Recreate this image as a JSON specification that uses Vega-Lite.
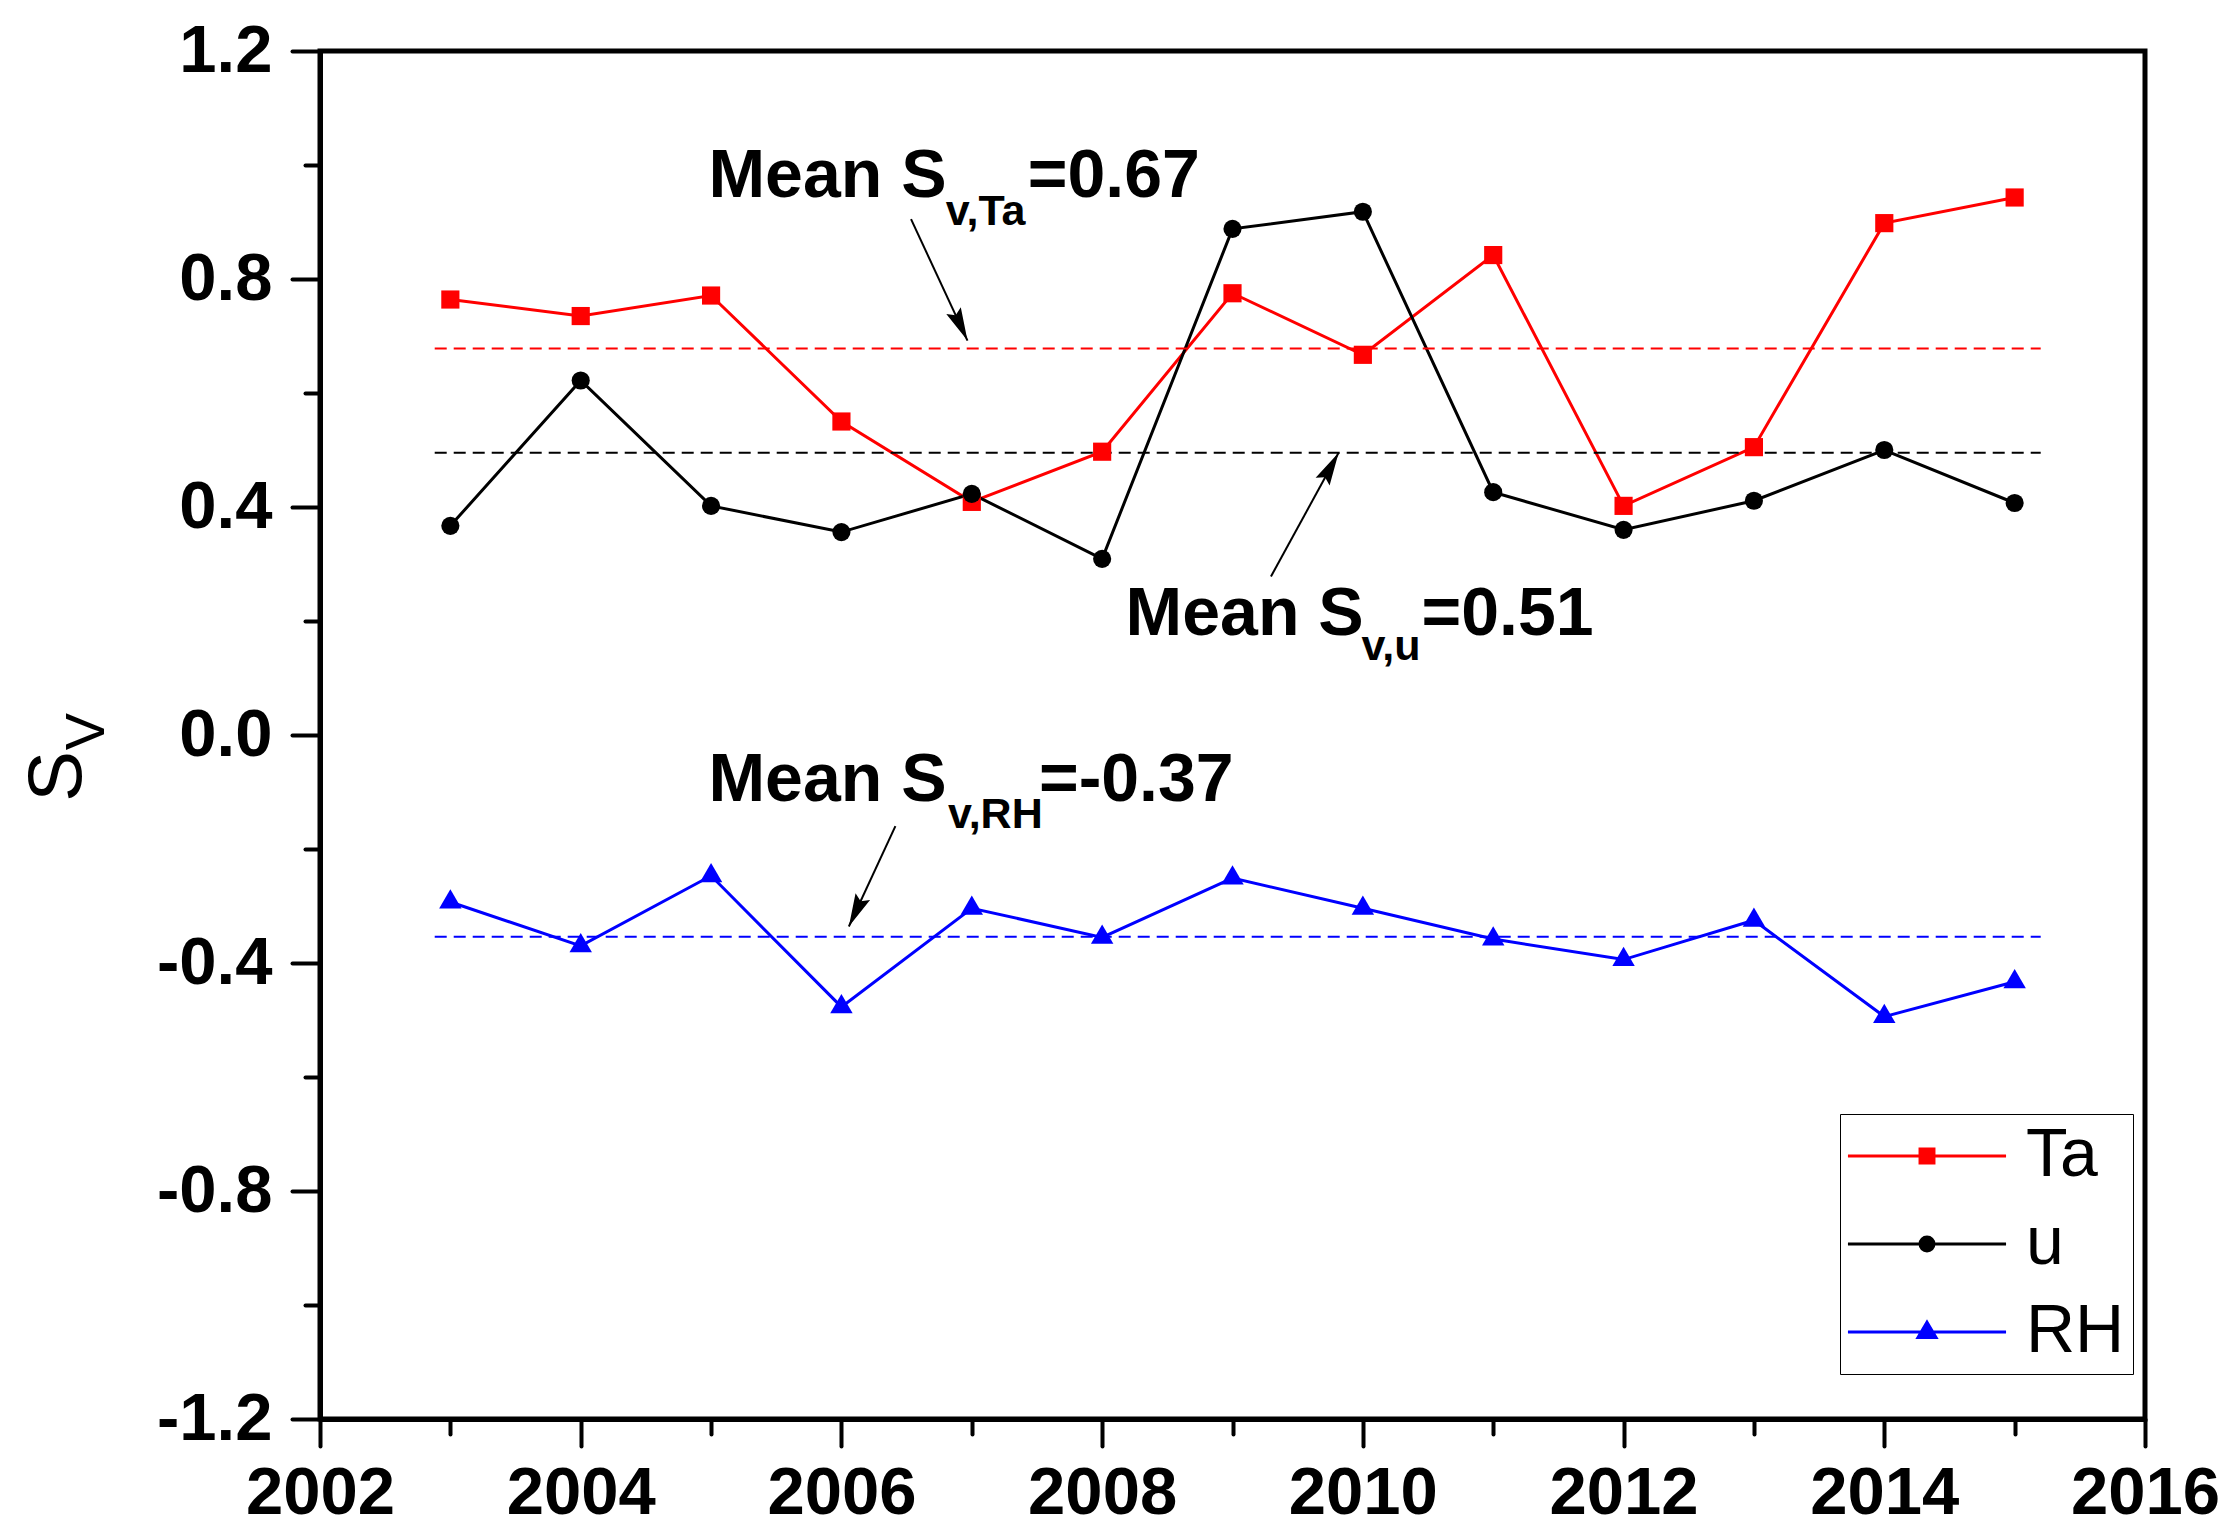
{
  "$schema": "https://vega.github.io/schema/vega-lite/v6.json",
  "width": 1825,
  "height": 1368,
  "autosize": {"type": "none"},
  "padding": {"left": 320, "top": 51, "right": 93, "bottom": 115},
  "background": "white",
  "config": {
    "view": {"stroke": "black", "strokeWidth": 5},
    "font": "Liberation Sans",
    "axis": {
      "grid": false,
      "domainColor": "black",
      "domainWidth": 5,
      "tickColor": "black",
      "tickWidth": 4,
      "tickCap": "round",
      "labelColor": "black",
      "labelFont": "Liberation Sans",
      "labelFontWeight": "bold",
      "labelFontSize": 67,
      "labelFlush": false,
      "labelOverlap": false,
      "titleColor": "black",
      "titleFont": "Liberation Sans",
      "titleFontWeight": "normal"
    }
  },
  "resolve": {"axis": {"x": "independent", "y": "independent"}, "scale": {"shape": "independent"}},
  "datasets": {
    "series": [
      {"year": 2003, "series": "Ta", "value": 0.764},
      {"year": 2004, "series": "Ta", "value": 0.735},
      {"year": 2005, "series": "Ta", "value": 0.771},
      {"year": 2006, "series": "Ta", "value": 0.55},
      {"year": 2007, "series": "Ta", "value": 0.409},
      {"year": 2008, "series": "Ta", "value": 0.497},
      {"year": 2009, "series": "Ta", "value": 0.775},
      {"year": 2010, "series": "Ta", "value": 0.667},
      {"year": 2011, "series": "Ta", "value": 0.842},
      {"year": 2012, "series": "Ta", "value": 0.402},
      {"year": 2013, "series": "Ta", "value": 0.505},
      {"year": 2014, "series": "Ta", "value": 0.898},
      {"year": 2015, "series": "Ta", "value": 0.943},
      {"year": 2003, "series": "u", "value": 0.367},
      {"year": 2004, "series": "u", "value": 0.622},
      {"year": 2005, "series": "u", "value": 0.402},
      {"year": 2006, "series": "u", "value": 0.356},
      {"year": 2007, "series": "u", "value": 0.423},
      {"year": 2008, "series": "u", "value": 0.309},
      {"year": 2009, "series": "u", "value": 0.888},
      {"year": 2010, "series": "u", "value": 0.918},
      {"year": 2011, "series": "u", "value": 0.426},
      {"year": 2012, "series": "u", "value": 0.36},
      {"year": 2013, "series": "u", "value": 0.411},
      {"year": 2014, "series": "u", "value": 0.5},
      {"year": 2015, "series": "u", "value": 0.407},
      {"year": 2003, "series": "RH", "value": -0.293},
      {"year": 2004, "series": "RH", "value": -0.37},
      {"year": 2005, "series": "RH", "value": -0.247},
      {"year": 2006, "series": "RH", "value": -0.477},
      {"year": 2007, "series": "RH", "value": -0.304},
      {"year": 2008, "series": "RH", "value": -0.355},
      {"year": 2009, "series": "RH", "value": -0.251},
      {"year": 2010, "series": "RH", "value": -0.304},
      {"year": 2011, "series": "RH", "value": -0.358},
      {"year": 2012, "series": "RH", "value": -0.394},
      {"year": 2013, "series": "RH", "value": -0.325},
      {"year": 2014, "series": "RH", "value": -0.494},
      {"year": 2015, "series": "RH", "value": -0.433}
    ],
    "means": [
      {"series": "Ta", "mean": 0.678, "start": 2002.88, "end": 2015.2},
      {"series": "u", "mean": 0.495, "start": 2002.88, "end": 2015.2},
      {"series": "RH", "mean": -0.354, "start": 2002.88, "end": 2015.2}
    ],
    "arrows": [
      {"name": "Ta", "x0": 2006.534, "y0": 0.905, "x1": 2006.967, "y1": 0.692},
      {"name": "u", "x0": 2009.295, "y0": 0.278, "x1": 2009.814, "y1": 0.495},
      {"name": "RH", "x0": 2006.414, "y0": -0.16, "x1": 2006.057, "y1": -0.336}
    ],
    "labels": [
      {"label": "Mean S", "x": 2004.98, "y": 0.943},
      {"label": "=0.67", "x": 2007.43, "y": 0.943},
      {"label": "Mean S", "x": 2008.18, "y": 0.175},
      {"label": "=0.51", "x": 2010.45, "y": 0.175},
      {"label": "Mean S", "x": 2004.98, "y": -0.115},
      {"label": "=-0.37", "x": 2007.515, "y": -0.115}
    ],
    "subs": [
      {"label": "v,Ta", "x": 2006.8, "y": 0.895},
      {"label": "v,u", "x": 2009.99, "y": 0.132},
      {"label": "v,RH", "x": 2006.817, "y": -0.164}
    ]
  },
  "layer": [
    {
      "data": {"name": "series"},
      "mark": {"type": "line", "strokeWidth": 3},
      "encoding": {
        "x": {
          "field": "year", "type": "quantitative",
          "scale": {"domain": [2002, 2016], "nice": false, "zero": false},
          "axis": {"orient": "bottom", "values": [2002, 2004, 2006, 2008, 2010, 2012, 2014, 2016], "format": "d", "tickSize": 27, "labelPadding": 14, "title": null}
        },
        "y": {
          "field": "value", "type": "quantitative",
          "scale": {"domain": [-1.2, 1.2], "nice": false, "zero": false},
          "axis": {"orient": "left", "values": [-1.2, -0.8, -0.4, 0, 0.4, 0.8, 1.2], "labelExpr": "replace(format(datum.value, '.1f'), '\u2212', '-')", "tickSize": 28, "labelPadding": 20,
                   "title": "S", "titleFontSize": 76, "titleX": -240, "titleY": 725, "titleAngle": 270, "titleBaseline": "alphabetic", "titleAlign": "center"}
        },
        "color": {
          "field": "series", "type": "nominal",
          "scale": {"domain": ["Ta", "u", "RH"], "range": ["#ff0000", "#000000", "#0000ff"]},
          "legend": {
            "title": null,
            "orient": "none",
            "legendX": 1520,
            "legendY": 1063,
            "padding": 8,
            "strokeColor": "black",
            "fillColor": "white",
            "labelFont": "Liberation Sans",
            "labelFontSize": 68,
            "labelFontWeight": "normal",
            "labelColor": "black",
            "symbolSize": 289,
            "symbolOffset": 45,
            "labelOffset": 65,
            "rowPadding": 20,
            "encode": {
              "symbols": {
                "update": {
                  "shape": {"signal": "datum.value === 'Ta' ? 'M-9.3,0H9.3M-0.82,-0.82H0.82V0.82H-0.82Z' : datum.value === 'u' ? 'M-9.3,0H9.3M0.82,0A0.82,0.82,0,1,1,-0.82,0A0.82,0.82,0,1,1,0.82,0Z' : 'M-9.3,0H9.3M0,-1.15L1.06,0.65L-1.06,0.65Z'"},
                  "fill": {"signal": "datum.value === 'Ta' ? '#ff0000' : datum.value === 'u' ? '#000000' : '#0000ff'"},
                  "stroke": {"signal": "datum.value === 'Ta' ? '#ff0000' : datum.value === 'u' ? '#000000' : '#0000ff'"},
                  "strokeWidth": {"value": 3},
                  "fillOpacity": {"value": 1}
                }
              }
            }
          }
        }
      }
    },
    {
      "data": {"name": "means"},
      "mark": {"type": "rule", "strokeWidth": 2, "strokeDash": [12, 7]},
      "encoding": {
        "x": {
          "field": "start", "type": "quantitative",
          "axis": {"orient": "bottom", "values": [2003, 2005, 2007, 2009, 2011, 2013, 2015], "labels": false, "tickSize": 15, "domain": false, "title": null}
        },
        "x2": {"field": "end"},
        "y": {
          "field": "mean", "type": "quantitative",
          "axis": {"orient": "left", "values": [-1.0, -0.6, -0.2, 0.2, 0.6, 1.0], "labels": false, "tickSize": 15, "domain": false,
                   "title": "V", "titleFontSize": 56, "titleX": -217, "titleY": 680, "titleAngle": 270, "titleBaseline": "alphabetic", "titleAlign": "center"}
        },
        "color": {"field": "series", "type": "nominal", "legend": null}
      }
    },
    {
      "data": {"name": "series"},
      "mark": {"type": "point", "filled": true, "size": 330, "opacity": 1},
      "encoding": {
        "x": {"field": "year", "type": "quantitative", "axis": null},
        "y": {"field": "value", "type": "quantitative", "axis": null},
        "color": {"field": "series", "type": "nominal", "legend": null},
        "shape": {
          "field": "series", "type": "nominal",
          "scale": {"domain": ["Ta", "u", "RH"], "range": ["square", "circle", "M0,-1.41L1.235,0.706L-1.235,0.706Z"]},
          "legend": null
        }
      }
    },
    {
      "data": {"name": "arrows"},
      "mark": {"type": "rule", "strokeWidth": 2, "color": "black"},
      "encoding": {
        "x": {"field": "x0", "type": "quantitative", "axis": null},
        "y": {"field": "y0", "type": "quantitative", "axis": null},
        "x2": {"field": "x1"},
        "y2": {"field": "y1"}
      }
    },
    {
      "data": {"name": "arrows"},
      "transform": [{"filter": "datum.name === 'Ta'"}],
      "mark": {"type": "point", "shape": "M0,0L1.6,6.6L0,5.6L-1.6,6.6Z", "size": 100, "filled": true, "color": "black", "opacity": 1, "angle": 155},
      "encoding": {
        "x": {"field": "x1", "type": "quantitative", "axis": null},
        "y": {"field": "y1", "type": "quantitative", "axis": null}
      }
    },
    {
      "data": {"name": "arrows"},
      "transform": [{"filter": "datum.name === 'u'"}],
      "mark": {"type": "point", "shape": "M0,0L1.6,6.6L0,5.6L-1.6,6.6Z", "size": 100, "filled": true, "color": "black", "opacity": 1, "angle": 29},
      "encoding": {
        "x": {"field": "x1", "type": "quantitative", "axis": null},
        "y": {"field": "y1", "type": "quantitative", "axis": null}
      }
    },
    {
      "data": {"name": "arrows"},
      "transform": [{"filter": "datum.name === 'RH'"}],
      "mark": {"type": "point", "shape": "M0,0L1.6,6.6L0,5.6L-1.6,6.6Z", "size": 100, "filled": true, "color": "black", "opacity": 1, "angle": 205},
      "encoding": {
        "x": {"field": "x1", "type": "quantitative", "axis": null},
        "y": {"field": "y1", "type": "quantitative", "axis": null}
      }
    },
    {
      "data": {"name": "labels"},
      "mark": {"type": "text", "align": "left", "baseline": "alphabetic", "font": "Liberation Sans", "fontSize": 68, "fontWeight": "bold", "color": "black"},
      "encoding": {
        "x": {"field": "x", "type": "quantitative", "axis": null},
        "y": {"field": "y", "type": "quantitative", "axis": null},
        "text": {"field": "label"}
      }
    },
    {
      "data": {"name": "subs"},
      "mark": {"type": "text", "align": "left", "baseline": "alphabetic", "font": "Liberation Sans", "fontSize": 43, "fontWeight": "bold", "color": "black"},
      "encoding": {
        "x": {"field": "x", "type": "quantitative", "axis": null},
        "y": {"field": "y", "type": "quantitative", "axis": null},
        "text": {"field": "label"}
      }
    }
  ]
}
